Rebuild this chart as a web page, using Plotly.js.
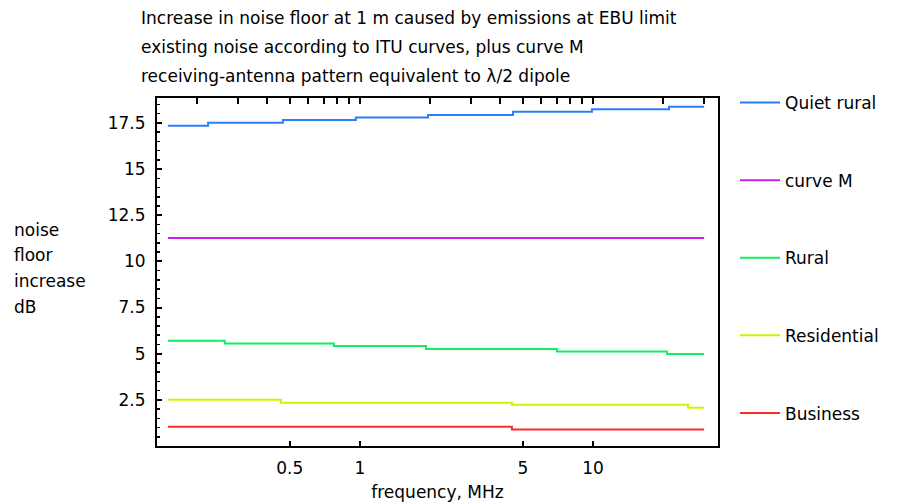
<!DOCTYPE html>
<html>
<head>
<meta charset="utf-8">
<script src="https://cdn.plot.ly/plotly-3.0.1.min.js"></script>
<style>html,body{margin:0;padding:0;background:#fff;}#chart{width:917px;height:502px;}</style>
</head>
<body>
<div id="chart"></div>
<script>
// Frequency breakpoints (MHz) and noise-floor increase (dB)
const freqQuietRural = [0.15, 0.223, 0.467, 0.96, 1.96, 4.54, 9.9, 21.2, 30];
const dbQuietRural   = [17.35, 17.51, 17.66, 17.79, 17.93, 18.11, 18.24, 18.38, 18.38];
const freqCurveM = [0.15, 30];
const dbCurveM   = [11.26, 11.26];
const freqRural = [0.15, 0.263, 0.773, 1.92, 7.0, 20.8, 30];
const dbRural   = [5.70, 5.55, 5.42, 5.26, 5.12, 4.99, 4.99];
const freqResidential = [0.15, 0.458, 4.49, 25.6, 30];
const dbResidential   = [2.50, 2.34, 2.23, 2.07, 2.07];
const freqBusiness = [0.15, 4.49, 30];
const dbBusiness   = [1.04, 0.89, 0.89];

const seriesNames = ["Quiet rural", "curve M", "Rural", "Residential", "Business"];
const seriesColors = ["#2a7cff", "#cc22ee", "#10ee66", "#ccf500", "#ff2a2a"];

const bottomTickVals = [0.5, 1, 5, 10];
const bottomTickText = ["0.5", "1", "5", "10"];
const topTickVals = [0.2,0.3,0.4,0.5,0.6,0.7,0.8,0.9,1,2,3,4,5,6,7,8,9,10,20,30];
const yTickVals = [2.5, 5, 7.5, 10, 12.5, 15, 17.5];
const yTickText = ["2.5", "5", "7.5", "10", "12.5", "15", "17.5"];

const titleLines = [
  "Increase in noise floor at 1 m caused by emissions at EBU limit",
  "existing noise according to ITU curves, plus curve M",
  "receiving-antenna pattern equivalent to λ/2 dipole"
];
const yTitleLines = ["noise", "floor", "increase", "dB"];
const xTitleText = "frequency, MHz";

const xs = [freqQuietRural, freqCurveM, freqRural, freqResidential, freqBusiness];
const ys = [dbQuietRural, dbCurveM, dbRural, dbResidential, dbBusiness];

const FONT = "DejaVu Sans, Liberation Sans, sans-serif";
const FS = 17;

// curve M is drawn against the top axis (identical log range) so that axis is created
const traces = seriesNames.map((n, i) => ({
  x: xs[i], y: ys[i], name: n, type: "scatter", mode: "lines",
  line: {color: seriesColors[i], width: 2, shape: "hv"},
  legendgroup: "g" + i, xaxis: i === 1 ? "x2" : "x", yaxis: "y"
}));

const xRange = [Math.log10(0.1346), Math.log10(34.4)];

// paper coordinates: plot area spans x 157..718 px, y 98..446 px
const px = v => (v - 157) / 561;
const py = v => (446 - v) / 348;

const annotations = titleLines.map((t, i) => ({
  text: t, xref: "paper", yref: "paper", x: px(139), y: py(18 + 29 * i),
  xanchor: "left", yanchor: "middle", showarrow: false,
  font: {family: FONT, size: FS, color: "#000"}
}));
const yTitleY = [230, 255, 281, 307];
yTitleLines.forEach((t, i) => annotations.push({
  text: t, xref: "paper", yref: "paper", x: px(12), y: py(yTitleY[i]),
  xanchor: "left", yanchor: "middle", showarrow: false,
  font: {family: FONT, size: FS, color: "#000"}
}));

const layout = {
  width: 917, height: 502,
  margin: {l: 157, r: 199, t: 98, b: 56},
  paper_bgcolor: "#fff", plot_bgcolor: "#fff",
  font: {family: FONT, size: FS, color: "#000"},
  showlegend: true,
  legend: {x: px(735), xanchor: "left", y: py(85), yanchor: "top", maxheight: 490,
           tracegroupgap: 52.5, font: {family: FONT, size: FS}, itemwidth: 40},
  xaxis: {
    type: "log", range: xRange, tickmode: "array",
    tickvals: bottomTickVals, ticktext: bottomTickText,
    ticks: "inside", ticklen: 5, tickwidth: 2, tickcolor: "#000",
    showline: true, linecolor: "#000", linewidth: 2, mirror: true,
    showgrid: false, zeroline: false, ticklabelstandoff: 6,
    title: {text: xTitleText, font: {family: FONT, size: FS}, standoff: 9}
  },
  xaxis2: {
    type: "log", range: xRange, overlaying: "x", side: "top", anchor: "y",
    tickmode: "array", tickvals: topTickVals, ticktext: topTickVals.map(() => ""),
    ticks: "inside", ticklen: 6, tickwidth: 2, tickcolor: "#000",
    showline: false, showgrid: false, zeroline: false
  },
  yaxis: {
    range: [0, 18.85], tickmode: "array", tickvals: yTickVals, ticktext: yTickText,
    ticks: "inside", ticklen: 5, tickwidth: 2, tickcolor: "#000",
    minor: {tickmode: "linear", tick0: 0, dtick: 0.5, ticks: "inside", ticklen: 3, tickwidth: 1.5, tickcolor: "#000", showgrid: false},
    showline: true, linecolor: "#000", linewidth: 2, mirror: true,
    showgrid: false, zeroline: false, ticklabelstandoff: 6
  },
  annotations: annotations
};

Plotly.newPlot("chart", traces, layout, {displayModeBar: false, staticPlot: true});
</script>
</body>
</html>
